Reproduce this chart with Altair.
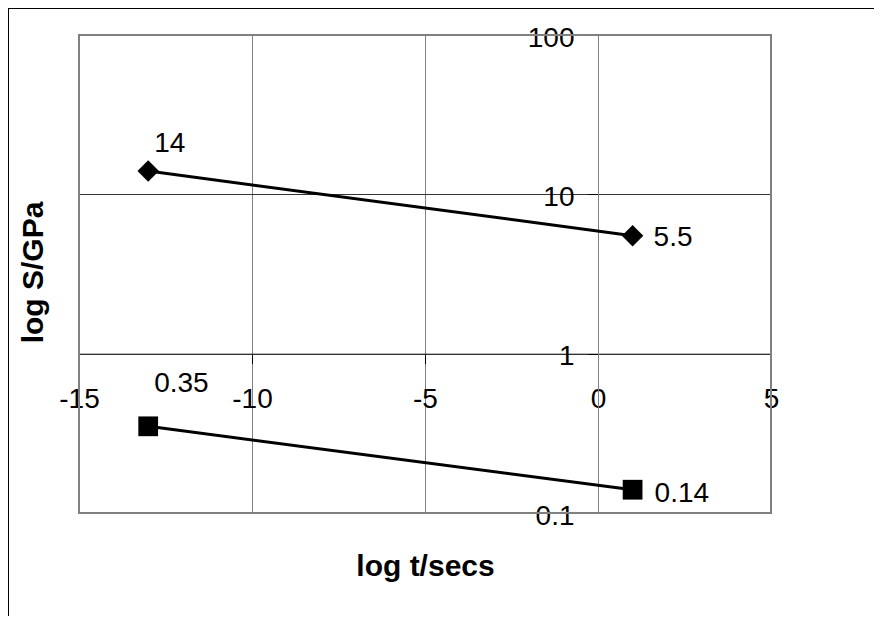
import math
import altair as alt
import pandas as pd

# ---- data ----
series = ["upper", "upper", "lower", "lower"]
log_t = [-13, 1, -13, 1]
s_gpa = [14, 5.5, 0.35, 0.14]
point_labels = ["14", "5.5", "0.35", "0.14"]

x_ticks = [-15, -10, -5, 0, 5]
y_ticks = [0.1, 1, 10, 100]
X_DOM = [-15, 5]
Y_DOM = [0.1, 100]
X_CROSS = 0      # y axis crosses at log t = 0
Y_CROSS = 1      # x axis crosses at S = 1

df = pd.DataFrame({"series": series, "t": log_t, "S": s_gpa,
                   "label": point_labels, "idx": list(range(len(series)))})

# ---- layout ----
W, H = 692, 478
PAD = {"left": 71, "top": 27, "right": 103, "bottom": 103}
FONT = "Liberation Sans"
FS = 28
TFS = 30

x_off = -H * (math.log10(Y_CROSS) - math.log10(Y_DOM[0])) / (math.log10(Y_DOM[1]) - math.log10(Y_DOM[0]))
y_off = -W * (X_CROSS - X_DOM[0]) / (X_DOM[1] - X_DOM[0])

x_scale = alt.Scale(domain=X_DOM, nice=False, zero=False)
y_scale = alt.Scale(type="log", domain=Y_DOM, nice=False)

x_axis = alt.Axis(
    values=x_ticks, offset=x_off, tickSize=10, tickColor="black", tickWidth=1,
    domainColor="#333333", domainWidth=1, grid=True, gridColor="#808080", gridWidth=1,
    labelFontSize=FS, labelColor="black", labelFont=FONT, labelBaseline="alphabetic",
    labelPadding=44, labelFlush=False, labelOverlap=False, labelAlign="center",
    labelExpr="'' + datum.value",
    title="log t/secs", titleFont=FONT, titleFontSize=TFS, titleFontWeight="bold",
    titleColor="black", titleX=W / 2, titleY=540 - (H + x_off), titleAlign="center",
    titleBaseline="alphabetic", titleAngle=0,
)
y_axis = alt.Axis(
    values=y_ticks, offset=y_off, tickSize=10, tickColor="black", tickWidth=1,
    domainColor="#808080", domainWidth=1, grid=True, gridColor="#333333", gridWidth=1,
    labelFontSize=FS, labelColor="black", labelFont=FONT, labelBaseline="alphabetic",
    labelOffset=11, labelPadding=14, labelFlush=False, labelOverlap=False, labelAlign="right",
    labelExpr="'' + datum.value",
    title="log S/GPa", titleFont=FONT, titleFontSize=TFS, titleFontWeight="bold",
    titleColor="black", titleX=-37 + y_off, titleY=237, titleAlign="center",
    titleBaseline="alphabetic", titleAngle=270,
)

X = alt.X("t:Q", scale=x_scale, axis=x_axis)
Y = alt.Y("S:Q", scale=y_scale, axis=y_axis)

base = alt.Chart(df)

lines = base.mark_line(color="black", strokeWidth=3).encode(
    x=X, y=Y, detail="series:N", order="t:Q",
)

diamonds = base.transform_filter(alt.datum.series == "upper").mark_point(
    shape="diamond", filled=True, color="black", opacity=1, size=460
).encode(x=X, y=Y)

squares = base.transform_filter(alt.datum.series == "lower").mark_point(
    shape="square", filled=True, color="black", opacity=1, size=390
).encode(x=X, y=Y)

label_offsets = [(6, -19), (21, 10), (6, -34), (22, 12)]
label_layers = []
for i, (dx, dy) in enumerate(label_offsets):
    label_layers.append(
        base.transform_filter(alt.datum.idx == i).mark_text(
            align="left", baseline="alphabetic", dx=dx, dy=dy,
            font=FONT, fontSize=FS, color="black"
        ).encode(x=X, y=Y, text="label:N")
    )

deco = alt.Chart(pd.DataFrame({"k": [0]}))
plot_border = deco.mark_rect(fill="transparent", stroke="#808080", strokeWidth=2).encode(
    x=alt.value(0), x2=alt.value(W), y=alt.value(0), y2=alt.value(H)
)
# outer chart-area frame: only its left and top edges fall inside the picture,
# drawn as 1px filled strips
edge_r = W + PAD["right"]
edge_b = H + PAD["bottom"]
frame_left = deco.mark_rect(fill="black", strokeWidth=0).encode(
    x=alt.value(-PAD["left"]), x2=alt.value(-PAD["left"] + 1),
    y=alt.value(-PAD["top"]), y2=alt.value(edge_b)
)
frame_top = deco.mark_rect(fill="black", strokeWidth=0).encode(
    x=alt.value(-PAD["left"]), x2=alt.value(edge_r),
    y=alt.value(-PAD["top"]), y2=alt.value(-PAD["top"] + 1)
)

chart = alt.layer(
    lines, diamonds, squares, *label_layers, plot_border, frame_left, frame_top
).properties(
    width=W, height=H,
    autosize=alt.AutoSizeParams(type="none"),
    padding=PAD,
    background="white",
).configure_view(stroke=None).configure(font=FONT)

chart.save("out.html", embed_options={"renderer": "svg", "actions": False})
